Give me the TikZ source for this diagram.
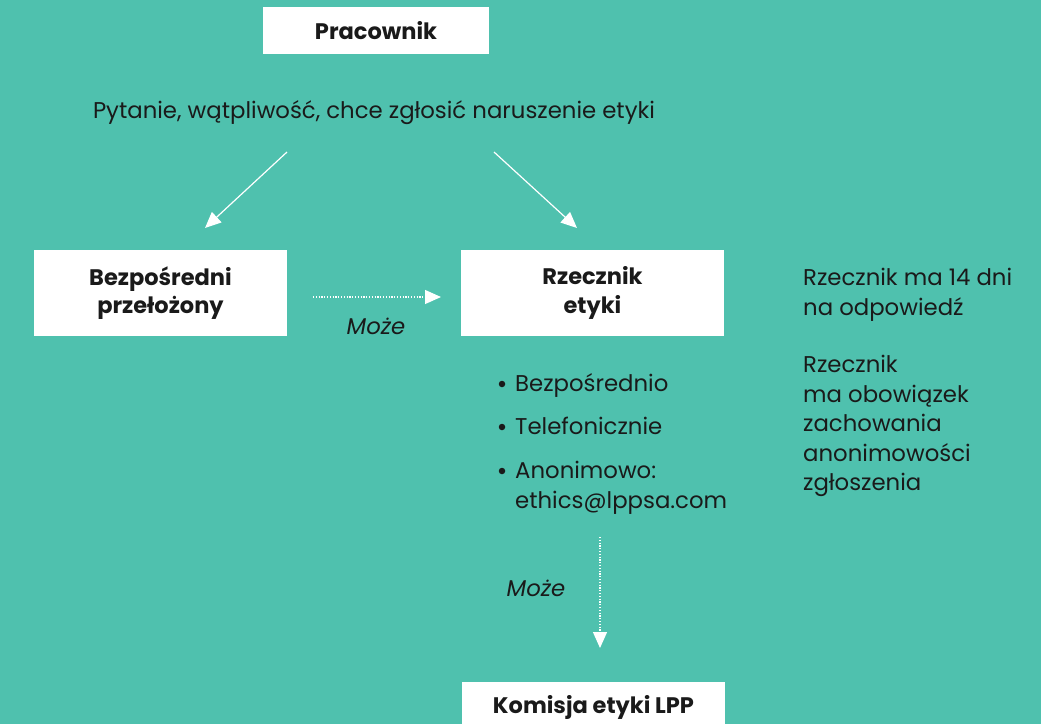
\documentclass[tikz,border=0pt]{standalone}
\usepackage{fontspec}
\setmainfont{Poppins}
\usetikzlibrary{arrows.meta}
\definecolor{bg}{HTML}{4FC1AE}
\definecolor{txt}{HTML}{1A1A1A}
\tikzset{
  box/.style={fill=white, draw=none, inner sep=0pt, font=\bfseries\fontsize{22.5}{28.5}\selectfont, text=txt, align=center},
  plain/.style={inner sep=0pt, anchor=base west, font=\fontsize{22.8}{29.5}\selectfont, text=txt},
  ital/.style={inner sep=0pt, anchor=base, font=\itshape\fontsize{22.8}{28}\selectfont, text=txt},
  bul/.style={circle, fill=txt, inner sep=0pt, minimum size=6.5pt},
  conn/.style={draw=white, line width=1.2pt, -{Triangle[length=16pt,width=14pt]}},
  dotconn/.style={draw=white, line width=1.2pt, dash pattern=on 1.2pt off 1.6pt, -{Triangle[length=16pt,width=14pt]}}
}
\begin{document}
\begin{tikzpicture}[x=1pt,y=-1pt]
\fill[bg] (0,0) rectangle (1041,724);
\useasboundingbox (0,0) rectangle (1041,724);
\node[box, minimum width=226pt, minimum height=47pt] (prac) at (376,30.5) {Pracownik};
\node[plain, anchor=base] (q) at (374,118) {Pytanie, wątpliwość, chce zgłosić naruszenie etyki};
\node[box, minimum width=253pt, minimum height=86pt] (bp) at (160.5,293) {Bezpośredni\\przełożony};
\node[box, minimum width=263pt, minimum height=86pt] (re) at (592.5,293) {Rzecznik\\etyki};
\fill[white] (462,682) rectangle (725,724);
\node[box, anchor=base] (kom) at (593.5,713) {Komisja etyki LPP};
\coordinate (a1s) at (287,152); \coordinate (a1e) at (205,228);
\coordinate (a2s) at (494,152); \coordinate (a2e) at (577,228);
\draw[conn] (a1s) -- (a1e);
\draw[conn] (a2s) -- (a2e);
\coordinate (d1s) at (313,297); \coordinate (d1e) at (441,297);
\draw[dotconn] (d1s) -- (d1e);
\node[ital] (m1) at (376,334) {Może};
\coordinate (d2s) at (600,537); \coordinate (d2e) at (600,648);
\draw[dotconn] (d2s) -- (d2e);
\node[ital] (m2) at (536,596) {Może};
\node[bul] (b1) at (502,384) {};
\node[bul] (b2) at (502,427) {};
\node[bul] (b3) at (502,471) {};
\node[plain] (t1) at (515,391) {Bezpośrednio};
\node[plain] (t2) at (515,434) {Telefonicznie};
\node[plain] (t3) at (515,478) {Anonimowo:};
\node[plain] (mail) at (515,508) {ethics@lppsa.com};
\node[plain] (r1) at (803,285) {Rzecznik ma 14 dni};
\node[plain] (r2) at (803,315) {na odpowiedź};
\node[plain] (r3) at (803,372) {Rzecznik};
\node[plain] (r4) at (803,402) {ma obowiązek};
\node[plain] (r5) at (803,431) {zachowania};
\node[plain] (r6) at (803,461) {anonimowości};
\node[plain] (r7) at (803,490) {zgłoszenia};
\end{tikzpicture}
\end{document}
